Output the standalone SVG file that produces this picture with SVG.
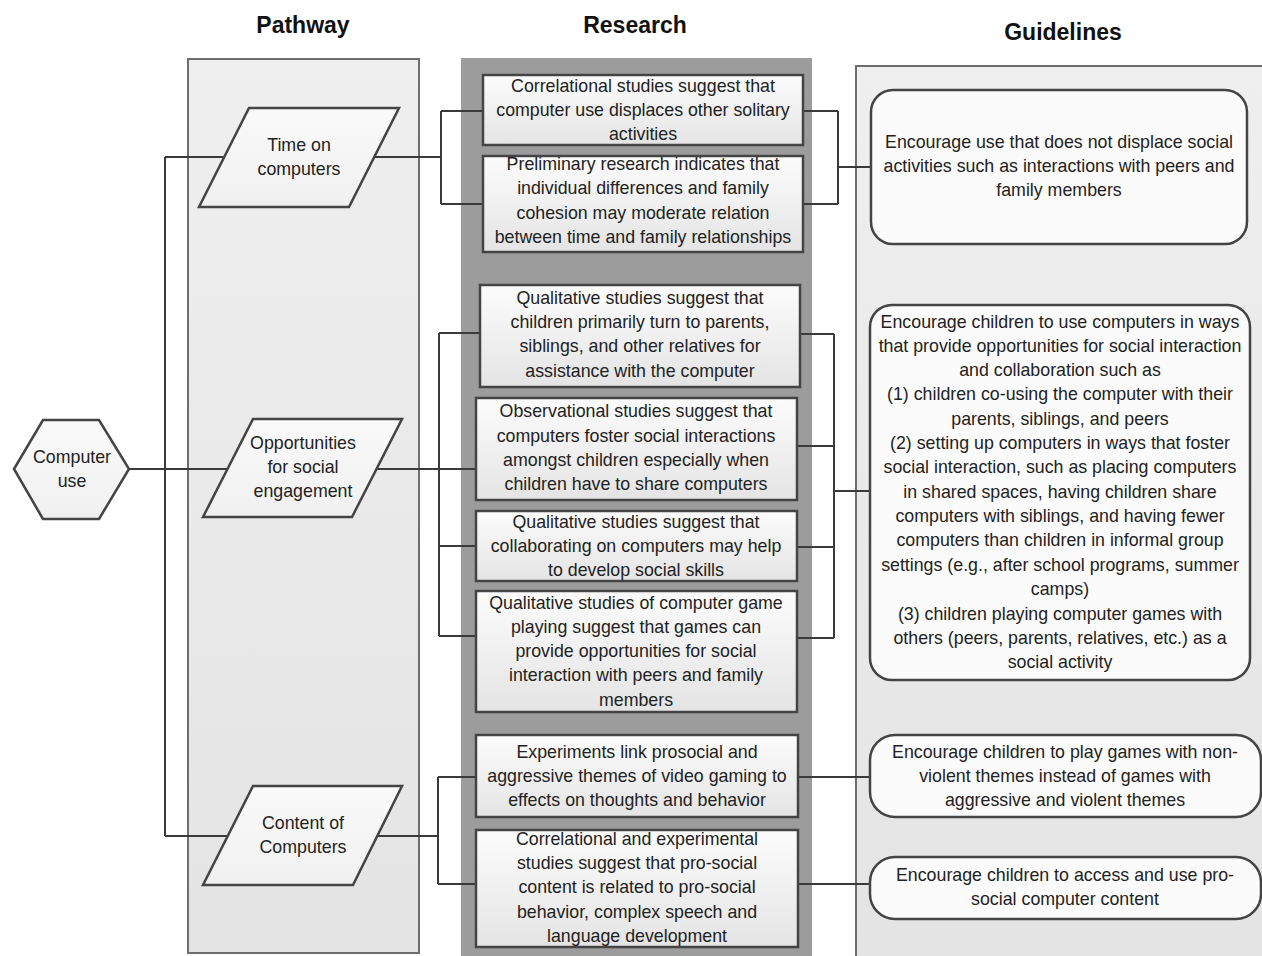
<svg xmlns="http://www.w3.org/2000/svg" width="1262" height="956" viewBox="0 0 1262 956">
<defs>
<linearGradient id="gBox" x1="0" y1="0" x2="0" y2="1"><stop offset="0" stop-color="#fcfcfc"/><stop offset="1" stop-color="#e4e4e4"/></linearGradient>
<linearGradient id="gPar" x1="0" y1="0" x2="0" y2="1"><stop offset="0" stop-color="#fafafa"/><stop offset="1" stop-color="#f0f0f0"/></linearGradient>
<linearGradient id="gCol" x1="0" y1="0" x2="0" y2="1"><stop offset="0" stop-color="#efefef"/><stop offset="1" stop-color="#e4e4e4"/></linearGradient>
</defs>
<style>
text{font-family:"Liberation Sans",Arial,sans-serif;font-size:17.8px;fill:#222;text-anchor:middle}
.title{font-size:23px;font-weight:bold;fill:#111}
.col{fill:url(#gCol);stroke:#6e6e6e;stroke-width:2}
.rcol{fill:#9c9c9c;stroke:none}
.rbox{fill:url(#gBox);stroke:#444;stroke-width:2.5}
.gbox{fill:#fbfbfb;stroke:#444;stroke-width:2.5}
.par{fill:url(#gPar);stroke:#444;stroke-width:2.5}
.conn path{fill:none;stroke:#3a3a3a;stroke-width:2}
</style>
<rect width="1262" height="956" fill="#ffffff"/>
<text class="title" x="303" y="33">Pathway</text>
<text class="title" x="635" y="33">Research</text>
<text class="title" x="1063" y="40">Guidelines</text>
<rect class="col" x="188" y="59" width="231" height="894"/>
<rect class="rcol" x="461" y="58" width="351" height="900"/>
<rect class="col" x="856" y="66" width="420" height="900"/>
<g class="conn">
<path d="M129,469 H228 M165,157 V836 M165,157 H228 M165,836 H230"/>
<path d="M372,157 H441 M441,111 V204 M441,111 H483 M441,204 H483 M803,111 H838 M803,204 H838 M838,111 V204 M838,167 H871"/>
<path d="M376,469 H476 M439,333 V636 M439,333 H480 M439,546 H476 M439,636 H476 M800,334 H834 M797,446 H834 M797,547 H834 M797,638 H834 M834,334 V638 M834,491 H870"/>
<path d="M378,836 H438 M438,777 V884 M438,777 H476 M438,884 H476 M798,777 H870 M798,884 H870"/>
</g>
<g id="computer-use"><polygon class="par" points="14,469 43,420 99,420 129,469 99,519 43,519"/><text x="72" y="463">Computer</text><text x="72" y="487">use</text></g>
<g id="p-time"><polygon class="par" points="249,108 399,108 349,207 199,207"/><text x="299" y="151">Time on</text><text x="299" y="175">computers</text></g>
<g id="p-opp"><polygon class="par" points="253,419 402,419 352,517 203,517"/><text x="303" y="449">Opportunities</text><text x="303" y="473">for social</text><text x="303" y="497">engagement</text></g>
<g id="p-content"><polygon class="par" points="253,786 402,786 353,885 203,885"/><text x="303" y="829">Content of</text><text x="303" y="853">Computers</text></g>
<g id="r1"><rect class="rbox" x="483" y="75" width="320" height="70"/><text x="643" y="92">Correlational studies suggest that</text><text x="643" y="116">computer use displaces other solitary</text><text x="643" y="140">activities</text></g>
<g id="r2"><rect class="rbox" x="483" y="156" width="320" height="96"/><text x="643" y="170">Preliminary research indicates that</text><text x="643" y="194">individual differences and family</text><text x="643" y="219">cohesion may moderate relation</text><text x="643" y="243">between time and family relationships</text></g>
<g id="r3"><rect class="rbox" x="480" y="285" width="320" height="102"/><text x="640" y="304">Qualitative studies suggest that</text><text x="640" y="328">children primarily turn to parents,</text><text x="640" y="352">siblings, and other relatives for</text><text x="640" y="377">assistance with the computer</text></g>
<g id="r4"><rect class="rbox" x="476" y="398" width="321" height="102"/><text x="636" y="417">Observational studies suggest that</text><text x="636" y="442">computers foster social interactions</text><text x="636" y="466">amongst children especially when</text><text x="636" y="490">children have to share computers</text></g>
<g id="r5"><rect class="rbox" x="476" y="511" width="321" height="70"/><text x="636" y="528">Qualitative studies suggest that</text><text x="636" y="552">collaborating on computers may help</text><text x="636" y="576">to develop social skills</text></g>
<g id="r6"><rect class="rbox" x="476" y="591" width="321" height="121"/><text x="636" y="609">Qualitative studies of computer game</text><text x="636" y="633">playing suggest that games can</text><text x="636" y="657">provide opportunities for social</text><text x="636" y="681">interaction with peers and family</text><text x="636" y="706">members</text></g>
<g id="r7"><rect class="rbox" x="476" y="735" width="322" height="82"/><text x="637" y="758">Experiments link prosocial and</text><text x="637" y="782">aggressive themes of video gaming to</text><text x="637" y="806">effects on thoughts and behavior</text></g>
<g id="r8"><rect class="rbox" x="476" y="830" width="322" height="117"/><text x="637" y="845">Correlational and experimental</text><text x="637" y="869">studies suggest that pro-social</text><text x="637" y="893">content is related to pro-social</text><text x="637" y="918">behavior, complex speech and</text><text x="637" y="942">language development</text></g>
<g id="g1"><rect class="gbox" x="871" y="90" width="376" height="154" rx="22"/><text x="1059" y="148">Encourage use that does not displace social</text><text x="1059" y="172">activities such as interactions with peers and</text><text x="1059" y="196">family members</text></g>
<g id="g2"><rect class="gbox" x="870" y="305" width="380" height="375" rx="22"/>
<text x="1060" y="328">Encourage children to use computers in ways</text>
<text x="1060" y="352">that provide opportunities for social interaction</text>
<text x="1060" y="376">and collaboration such as</text>
<text x="1060" y="400">(1) children co-using the computer with their</text>
<text x="1060" y="425">parents, siblings, and peers</text>
<text x="1060" y="449">(2) setting up computers in ways that foster</text>
<text x="1060" y="473">social interaction, such as placing computers</text>
<text x="1060" y="498">in shared spaces, having children share</text>
<text x="1060" y="522">computers with siblings, and having fewer</text>
<text x="1060" y="546">computers than children in informal group</text>
<text x="1060" y="571">settings (e.g., after school programs, summer</text>
<text x="1060" y="595">camps)</text>
<text x="1060" y="620">(3) children playing computer games with</text>
<text x="1060" y="644">others (peers, parents, relatives, etc.) as a</text>
<text x="1060" y="668">social activity</text></g>
<g id="g3"><rect class="gbox" x="870" y="735" width="391" height="82" rx="25"/><text x="1065" y="758">Encourage children to play games with non-</text><text x="1065" y="782">violent themes instead of games with</text><text x="1065" y="806">aggressive and violent themes</text></g>
<g id="g4"><rect class="gbox" x="870" y="857" width="391" height="62" rx="25"/><text x="1065" y="881">Encourage children to access and use pro-</text><text x="1065" y="905">social computer content</text></g>
</svg>
